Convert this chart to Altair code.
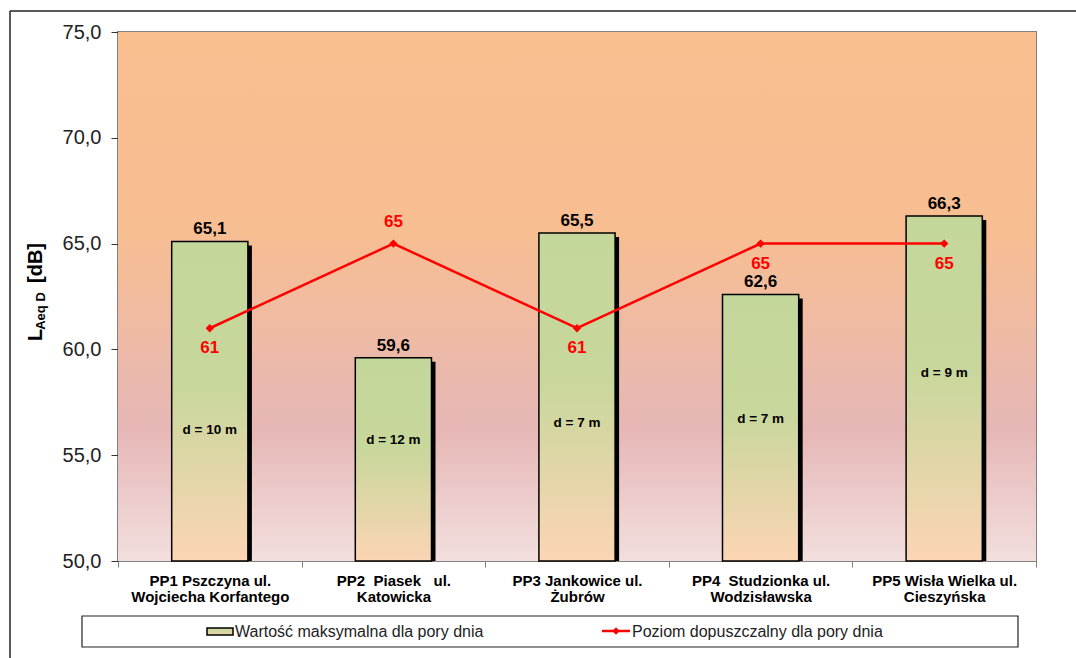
import altair as alt
import pandas as pd

# --- data -------------------------------------------------------------
NB = "\u00a0"
categories = [
    "PP1 Pszczyna ul.\nWojciecha Korfantego",
    f"PP2 {NB}Piasek {NB}{NB}ul.\nKatowicka",
    "PP3 Jankowice ul.\nŻubrów",
    f"PP4 {NB}Studzionka ul.\nWodzisławska",
    "PP5 Wisła Wielka ul.\nCieszyńska",
]
max_values = [65.1, 59.6, 65.5, 62.6, 66.3]          # LAeq D, max for day time
limit_values = [61, 65, 61, 65, 65]                  # permissible level, day time
distances = ["d = 10 m", "d = 12 m", "d = 7 m", "d = 7 m", "d = 9 m"]
distance_label_at = [56.2, 55.7, 56.5, 56.7, 58.9]   # dB level where the distance note sits
limit_label_side = ["below", "above", "below", "below", "below"]

y_ticks = [50, 55, 60, 65, 70, 75]

series_bar = "Wartość maksymalna dla pory dnia"
series_line = "Poziom dopuszczalny dla pory dnia"

df = pd.DataFrame({
    "cat": categories,
    "max": max_values,
    "limit": limit_values,
    "dist": distances,
    "dist_at": distance_label_at,
    "side": limit_label_side,
})
df["max_label"] = [f"{v:.1f}".replace(".", ",") for v in max_values]
df["limit_label"] = [str(v) for v in limit_values]

one = pd.DataFrame({"k": [0]})

W, H = 918, 529
FONT = "Liberation Sans"

bar_fill = alt.LinearGradient(
    gradient="linear", x1=0, y1=0, x2=0, y2=1,
    stops=[
        alt.GradientStop(offset=0, color="#C4D79B"),
        alt.GradientStop(offset=0.45, color="#C8D79C"),
        alt.GradientStop(offset=1, color="#FCD5B4"),
    ],
)
bg_fill = alt.LinearGradient(
    gradient="linear", x1=0, y1=0, x2=0, y2=1,
    stops=[
        alt.GradientStop(offset=0, color="#FABF8F"),
        alt.GradientStop(offset=0.38, color="#F7BE92"),
        alt.GradientStop(offset=0.75, color="#E6B7B6"),
        alt.GradientStop(offset=1, color="#F2DFDE"),
    ],
)

x_enc = alt.X(
    "cat:N", sort=categories, title=None,
    scale=alt.Scale(paddingInner=0, paddingOuter=0),
    axis=alt.Axis(
        labelExpr="isValid(datum.value) ? split(datum.value, '\\n') : ''",
        labelAngle=0, labelFont=FONT, labelFontSize=15, labelFontWeight="bold",
        labelColor="#000000", labelLineHeight=16, labelPadding=6, labelLimit=300,
        labelBaseline="top",
        tickBand="extent", tickSize=6, tickColor="#808080", domain=False, grid=False,
    ),
)
y_scale = alt.Scale(domain=[50, 75], nice=False, zero=False)
y_enc = alt.Y(
    "max:Q", scale=y_scale, title=None,
    axis=alt.Axis(
        values=y_ticks, labelExpr="replace(format(datum.value, '.1f'), '.', ',')",
        labelFont=FONT, labelFontSize=20, labelColor="#222222", labelPadding=10,
        tickSize=7, tickColor="#333333", domain=False, grid=False,
    ),
)

base = alt.Chart(df)

background = alt.Chart(one).mark_rect(fill=bg_fill).encode(
    x=alt.value(0), x2=alt.value(W), y=alt.value(0), y2=alt.value(H)
)

bar_width = alt.RelativeBandSize(0.415)
shadow = base.mark_bar(color="#000000", xOffset=4, yOffset=4, clip=True,
                       width=bar_width).encode(
    x=x_enc, y=y_enc, y2=alt.datum(50)
)
bars = base.mark_bar(fill=bar_fill, stroke="#000000", strokeWidth=1.5,
                     width=bar_width).encode(
    x=x_enc, y=y_enc, y2=alt.datum(50)
)
bar_labels = base.mark_text(font=FONT, fontSize=17, fontWeight="bold",
                            color="#000000", dy=-12).encode(
    x=x_enc, y=y_enc, text="max_label:N"
)
dist_labels = base.mark_text(font=FONT, fontSize=13.5, fontWeight="bold",
                             color="#000000").encode(
    x=x_enc, y=alt.Y("dist_at:Q", scale=y_scale), text="dist:N"
)

line = base.mark_line(color="#FF0000", strokeWidth=2.5).encode(
    x=x_enc, y=alt.Y("limit:Q", scale=y_scale)
)
points = base.mark_point(shape="diamond", filled=True, size=70, color="#FF0000",
                         opacity=1).encode(
    x=x_enc, y=alt.Y("limit:Q", scale=y_scale)
)
lim_below = base.transform_filter(alt.datum.side == "below").mark_text(
    font=FONT, fontSize=17, fontWeight="bold", color="#FF0000", dy=20
).encode(x=x_enc, y=alt.Y("limit:Q", scale=y_scale), text="limit_label:N")
lim_above = base.transform_filter(alt.datum.side == "above").mark_text(
    font=FONT, fontSize=17, fontWeight="bold", color="#FF0000", dy=-22
).encode(x=x_enc, y=alt.Y("limit:Q", scale=y_scale), text="limit_label:N")

# y-axis title "L_Aeq D [dB]" with subscript, rotated
def title_piece(txt, size, px, py):
    return alt.Chart(one).mark_text(
        text=txt, font=FONT, fontSize=size, fontWeight="bold", color="#000000",
        angle=270, align="center", baseline="alphabetic"
    ).encode(x=alt.value(px), y=alt.value(py))

y_title = (title_piece("L", 20, -76, 303)
           + title_piece("Aeq D", 13, -73, 279)
           + title_piece("[dB]", 20, -76, 231))

# outer frame (left and top edges)
frame_left = alt.Chart(one).mark_rule(color="#222222", strokeWidth=1.5).encode(
    x=alt.value(-108), y=alt.value(-21), y2=alt.value(H + 97)
)
frame_top = alt.Chart(one).mark_rule(color="#222222", strokeWidth=1.5).encode(
    x=alt.value(-108), x2=alt.value(W + 40), y=alt.value(-21)
)

# legend box
legend_box = alt.Chart(one).mark_rect(fill="#FFFFFF", stroke="#222222",
                                      strokeWidth=1.2).encode(
    x=alt.value(-36), x2=alt.value(900), y=alt.value(584), y2=alt.value(615)
)
legend_swatch = alt.Chart(one).mark_rect(
    fill=alt.LinearGradient(
        gradient="linear", x1=0, y1=0, x2=0, y2=1,
        stops=[alt.GradientStop(offset=0, color="#C4D79B"),
               alt.GradientStop(offset=1, color="#E8D6A8")]),
    stroke="#000000", strokeWidth=1.5
).encode(x=alt.value(89), x2=alt.value(115), y=alt.value(596), y2=alt.value(603))
legend_text1 = alt.Chart(one).mark_text(
    text=series_bar, font=FONT, fontSize=16, color="#222222",
    align="left", baseline="middle"
).encode(x=alt.value(117), y=alt.value(600))
legend_line = alt.Chart(one).mark_rule(color="#FF0000", strokeWidth=2.5).encode(
    x=alt.value(484), x2=alt.value(512), y=alt.value(599)
)
legend_pt = alt.Chart(one).mark_point(shape="diamond", filled=True, size=55,
                                      color="#FF0000", opacity=1).encode(
    x=alt.value(498), y=alt.value(599)
)
legend_text2 = alt.Chart(one).mark_text(
    text=series_line, font=FONT, fontSize=16, color="#222222",
    align="left", baseline="middle"
).encode(x=alt.value(514), y=alt.value(600))

chart = alt.layer(
    background, shadow, bars, bar_labels, dist_labels,
    line, points, lim_below, lim_above,
    y_title, frame_left, frame_top,
    legend_box, legend_swatch, legend_text1, legend_line, legend_pt, legend_text2,
).properties(
    width=W, height=H,
    padding={"left": 118, "top": 32, "right": 40, "bottom": 97},
    autosize=alt.AutoSizeParams(type="none"),
    background="#FFFFFF",
).configure_view(
    stroke="#808080", strokeWidth=2
)

chart.save("out.html", embed_options={"renderer": "svg", "actions": False})
